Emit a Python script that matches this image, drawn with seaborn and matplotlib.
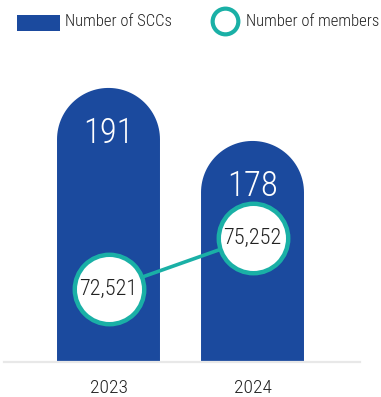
import numpy as np
import pandas as pd
import matplotlib
matplotlib.use("Agg")
import matplotlib.pyplot as plt
import seaborn as sns
from matplotlib import font_manager as fm
from matplotlib.path import Path
from matplotlib.patches import PathPatch, Rectangle
from matplotlib.lines import Line2D

# ---- data ----
years = ["2023", "2024"]
sccs = [191, 178]
members = [72521, 75252]
member_labels = ["72,521", "75,252"]
legend_labels = ["Number of SCCs", "Number of members"]

BLUE = "#1b4a9e"
TEAL = "#1ab0a6"
GRAY = "#e8e8e8"
DARK = "#222222"

sns.set_style("white")


def pick(cands):
    for c in cands:
        try:
            fm.findfont(fm.FontProperties(family=c), fallback_to_default=False)
            return c, "normal"
        except Exception:
            pass
    return "DejaVu Sans", "condensed"


FAM, STRETCH = pick(["Liberation Sans Narrow", "Roboto Condensed", "Open Sans Condensed"])
plt.rcParams["font.family"] = [FAM, "DejaVu Sans"]
plt.rcParams["font.stretch"] = STRETCH

W, H = 381, 397
fig = plt.figure(figsize=(W / 100, H / 100), dpi=100)
ax = fig.add_axes([4 / W, 35 / H, 356 / W, 312 / H])

df = pd.DataFrame({"year": years, "sccs": sccs, "members": members})
sns.barplot(data=df, x="year", y="sccs", color=BLUE, saturation=1, width=0.715, ax=ax)

ax.set_xlim(-0.7257, 1.7465)
ax.set_ylim(123.8, 200.3)
ax.set_yticks([])
ax.set_ylabel("")
ax.set_xlabel("")
for s in ["top", "left", "right"]:
    ax.spines[s].set_visible(False)
ax.spines["bottom"].set_color(GRAY)
ax.spines["bottom"].set_linewidth(1.6)
ax.tick_params(axis="x", length=0, pad=12, labelsize=14, labelcolor=DARK)
for lab in ax.get_xticklabels():
    lab.set_fontweight("light")

# rounded tops: radius = half bar width in pixels
p0 = ax.transData.transform((0, 0))
p1 = ax.transData.transform((1, 1))
px_x = p1[0] - p0[0]
px_y = p1[1] - p0[1]
for patch in list(ax.patches):
    x, w = patch.get_x(), patch.get_width()
    y0, h = patch.get_y(), patch.get_height()
    top = y0 + h
    rx = w / 2
    ry = rx * px_x / px_y
    cx, cy = x + rx, top - ry
    t = np.linspace(np.pi, 0, 60)
    verts = [(x, y0), (x, cy)] + [(cx + rx * np.cos(a), cy + ry * np.sin(a)) for a in t] + [(x + w, y0), (x, y0)]
    codes = [Path.MOVETO] + [Path.LINETO] * (len(verts) - 2) + [Path.CLOSEPOLY]
    pp = PathPatch(Path(verts, codes), facecolor=BLUE, edgecolor="none", lw=0, zorder=2)
    patch.remove()
    ax.add_patch(pp)

for i, v in enumerate(sccs):
    ax.annotate(str(v), (i, v), xytext=(0, -32.4), textcoords="offset points",
                ha="center", va="center", color="white", fontsize=25,
                fontweight="light", zorder=5)

# members line on twin axis
ax2 = ax.twinx()
sns.lineplot(x=[0, 1], y=members, ax=ax2, color=TEAL, lw=2.6, marker="o",
             markersize=50, markerfacecolor="white", markeredgecolor=TEAL,
             markeredgewidth=3.2, zorder=4)
ax2.set_xlim(-0.7257, 1.7465)
ax2.set_ylim(68612, 85319)
ax2.set_yticks([])
ax2.set_ylabel("")
for s in ax2.spines.values():
    s.set_visible(False)
for i, (v, lab) in enumerate(zip(members, member_labels)):
    ax2.text(i, v, lab, ha="center", va="center", fontsize=16, color=DARK,
             fontweight="light", zorder=6)

# legend (manual)
fig.add_artist(Rectangle((17 / W, 1 - 31 / H), 43 / W, 16 / H, transform=fig.transFigure,
                         facecolor=BLUE, edgecolor="none"))
fig.text(65 / W, 1 - 22 / H, legend_labels[0], ha="left", va="center", fontsize=12,
         color=DARK, fontweight="light")
fig.add_artist(Line2D([225 / W], [1 - 21 / H], transform=fig.transFigure, marker="o",
                      markersize=18.5, markerfacecolor="white", markeredgecolor=TEAL,
                      markeredgewidth=3.0, linestyle="none"))
fig.text(246 / W, 1 - 22 / H, legend_labels[1], ha="left", va="center", fontsize=12,
         color=DARK, fontweight="light")

fig.savefig("out.png", dpi=100)
